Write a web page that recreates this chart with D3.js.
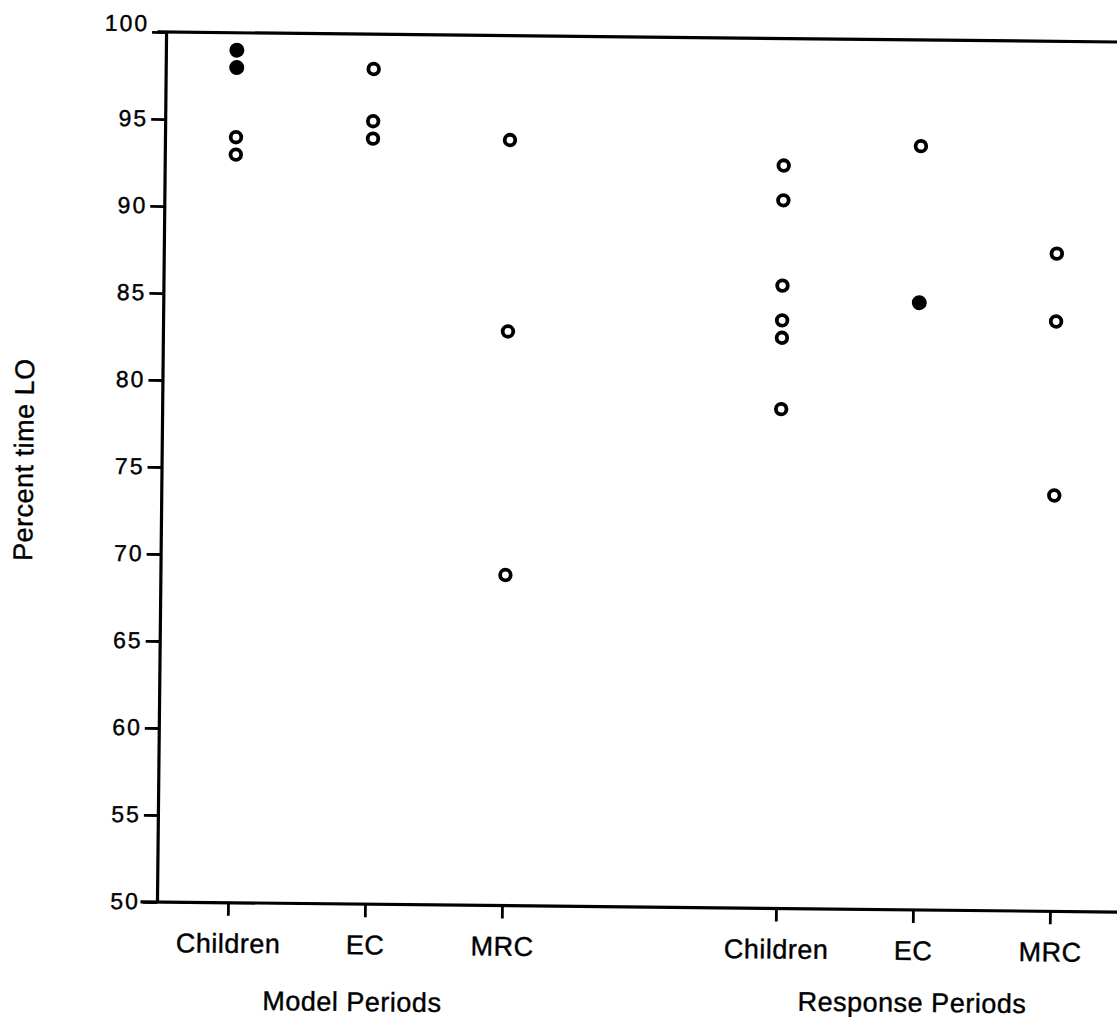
<!DOCTYPE html>
<html>
<head>
<meta charset="utf-8">
<script src="https://cdn.jsdelivr.net/npm/d3@7"></script>
<style>
  body { margin: 0; background: #fff; }
  text { font-family: "Liberation Sans", Arial, sans-serif; fill: #000; stroke: #000; stroke-width: 0.4px; }
</style>
</head>
<body>
<div id="chart"></div>
<script>
// categories along the x axis (gap slot between the two period groups)
var categories = ["Children", "EC", "MRC", "Children", "EC", "MRC"];
var slots = [1, 2, 3, 5, 6, 7];
var groupLabels = ["Model Periods", "Response Periods"];
var yTicks = [50, 55, 60, 65, 70, 75, 80, 85, 90, 95, 100];

// percent time LO, open circles per category
var openValues = [
  [94, 93],
  [98, 95, 94],
  [94, 83, 69],
  [92.7, 90.7, 85.8, 83.8, 82.8, 78.7],
  [93.9],
  [87.8, 83.9, 73.9]
];
// filled circles per category
var filledValues = [
  [99, 98],
  [],
  [],
  [],
  [84.9],
  []
];

var openPts = [], filledPts = [];
openValues.forEach(function(vals, i) {
  vals.forEach(function(v) { openPts.push({ slot: slots[i], v: v }) })
})
filledValues.forEach(function(vals, i) {
  vals.forEach(function(v) { filledPts.push({ slot: slots[i], v: v }) })
})

var svg = d3.select("#chart")
  .append("svg")
  .attr("width", 1117)
  .attr("height", 1020)

// the scanned original sits slightly askew
var g = svg.append("g")
  .attr("transform", "rotate(0.6,160,470)")

var y = d3.scaleLinear()
  .domain([50, 100])
  .range([902, 32])
var x = d3.scaleLinear()
  .domain([1, 7])
  .range([232.5, 1054.5])

// top and bottom frame lines
g.append("line")
  .attr("x1", 153).attr("x2", 1140)
  .attr("y1", y(100)).attr("y2", y(100))
  .attr("stroke", "#000").attr("stroke-width", 3.2)
g.append("line")
  .attr("x1", 145).attr("x2", 1140)
  .attr("y1", y(50)).attr("y2", y(50))
  .attr("stroke", "#000").attr("stroke-width", 3.2)

// y axis
var yAxis = g.append("g")
  .attr("transform", "translate(161.5,0)")
  .call(d3.axisLeft(y).tickValues(yTicks).tickSize(14).tickSizeOuter(0).tickPadding(3))
yAxis.select(".domain").attr("stroke-width", 3.2)
yAxis.selectAll(".tick line").attr("stroke-width", 2.8)
yAxis.selectAll(".tick text")
  .style("font-size", "23px")
  .style("letter-spacing", "2px")
  .attr("dy", function(d) { return d == 100 ? "-0.05em" : "0.3em" })

// x axis ticks + category labels
var xAxis = g.append("g")
  .attr("transform", "translate(0," + y(50) + ")")
  .call(d3.axisBottom(x).tickValues(slots).tickSize(13)
    .tickFormat(function(d, i) { return categories[i] }))
xAxis.select(".domain").remove()
xAxis.selectAll(".tick line").attr("stroke-width", 2.8)
xAxis.selectAll(".tick text")
  .attr("y", 50).attr("dy", 0)
  .style("font-size", "27px")
  .style("letter-spacing", "0.5px")

// group labels
g.selectAll("text.group")
  .data(groupLabels)
  .enter()
  .append("text")
  .attr("class", "group")
  .attr("x", function(d, i) { return i == 0 ? x(2) - 12 : x(6) })
  .attr("y", function(d, i) { return i == 0 ? 1009 : 1004 })
  .attr("text-anchor", "middle")
  .style("font-size", "27px")
  .style("letter-spacing", "0.5px")
  .text(function(d) { return d })

// y axis title
g.append("text")
  .attr("transform", "translate(33,461) rotate(-90)")
  .attr("text-anchor", "middle")
  .style("font-size", "27px")
  .style("letter-spacing", "0.5px")
  .text("Percent time LO")

// points
g.selectAll("circle.open")
  .data(openPts)
  .enter()
  .append("circle")
  .attr("class", "open")
  .attr("cx", function(d) { return x(d.slot) })
  .attr("cy", function(d) { return y(d.v) })
  .attr("r", 5.3)
  .style("fill", "#fff")
  .style("stroke", "#000")
  .style("stroke-width", 3.8)

g.selectAll("circle.filled")
  .data(filledPts)
  .enter()
  .append("circle")
  .attr("class", "filled")
  .attr("cx", function(d) { return x(d.slot) })
  .attr("cy", function(d) { return y(d.v) })
  .attr("r", 7.5)
  .style("fill", "#000")
</script>
</body>
</html>
